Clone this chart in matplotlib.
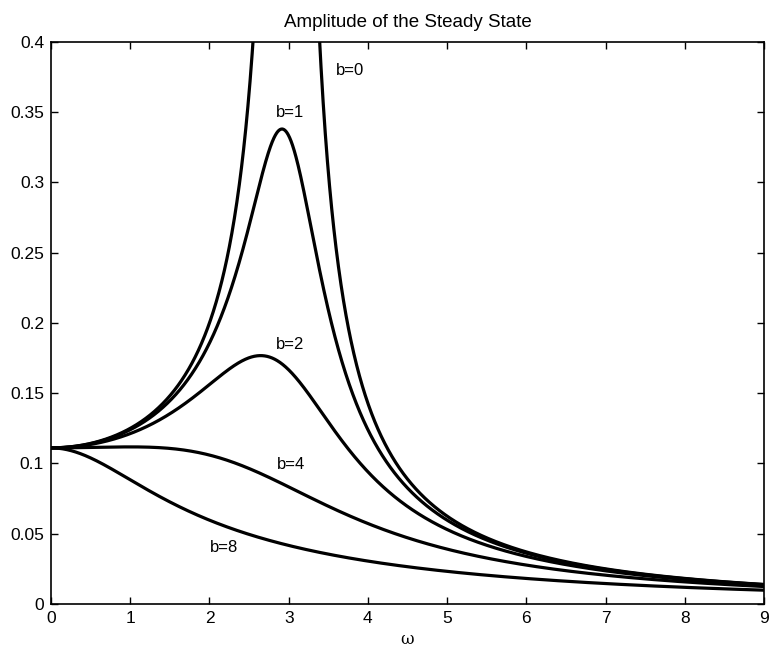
import numpy as np
import matplotlib
matplotlib.use("Agg")
import matplotlib.pyplot as plt

plt.rcParams['font.family'] = ['Liberation Sans', 'DejaVu Sans']

# spring constant (A(0) = 1/k = 0.111) and damping values
k = 9.0
damping = [0, 1, 2, 4, 8]
labels = ["b=0", "b=1", "b=2", "b=4", "b=8"]
label_x = [3.60, 2.84, 2.84, 2.85, 2.01]
label_y = [0.380, 0.350, 0.185, 0.0995, 0.040]

omega = np.linspace(0, 9, 2000)

fig = plt.figure(figsize=(7.74, 6.5), dpi=100)
ax = fig.add_axes([0.0659, 0.0708, 0.9212, 0.8646])

for b in damping:
    with np.errstate(divide='ignore'):
        amp = 1.0 / np.sqrt((k - omega**2)**2 + (b * omega)**2)
    amp[~np.isfinite(amp)] = np.nan
    ax.plot(omega, amp, color='black', lw=2.3)

for s, x, y in zip(labels, label_x, label_y):
    ax.text(x, y, s, fontsize=12, ha='left', va='center')

ax.set_xlim(0, 9)
ax.set_ylim(0, 0.4)
ax.set_xticks(range(10))
ax.set_yticks([0, 0.05, 0.1, 0.15, 0.2, 0.25, 0.3, 0.35, 0.4])
ax.set_yticklabels(['0', '0.05', '0.1', '0.15', '0.2', '0.25', '0.3', '0.35', '0.4'])
ax.tick_params(direction='in', top=True, right=True, length=5, width=1,
               labelsize=12.5, pad=5)
for sp in ax.spines.values():
    sp.set_linewidth(1.2)

ax.set_title("Amplitude of the Steady State", fontsize=13.5, pad=11)
ax.set_xlabel("ω", fontsize=12, family=['DejaVu Serif'], labelpad=4)

fig.savefig("out.png", dpi=100)
